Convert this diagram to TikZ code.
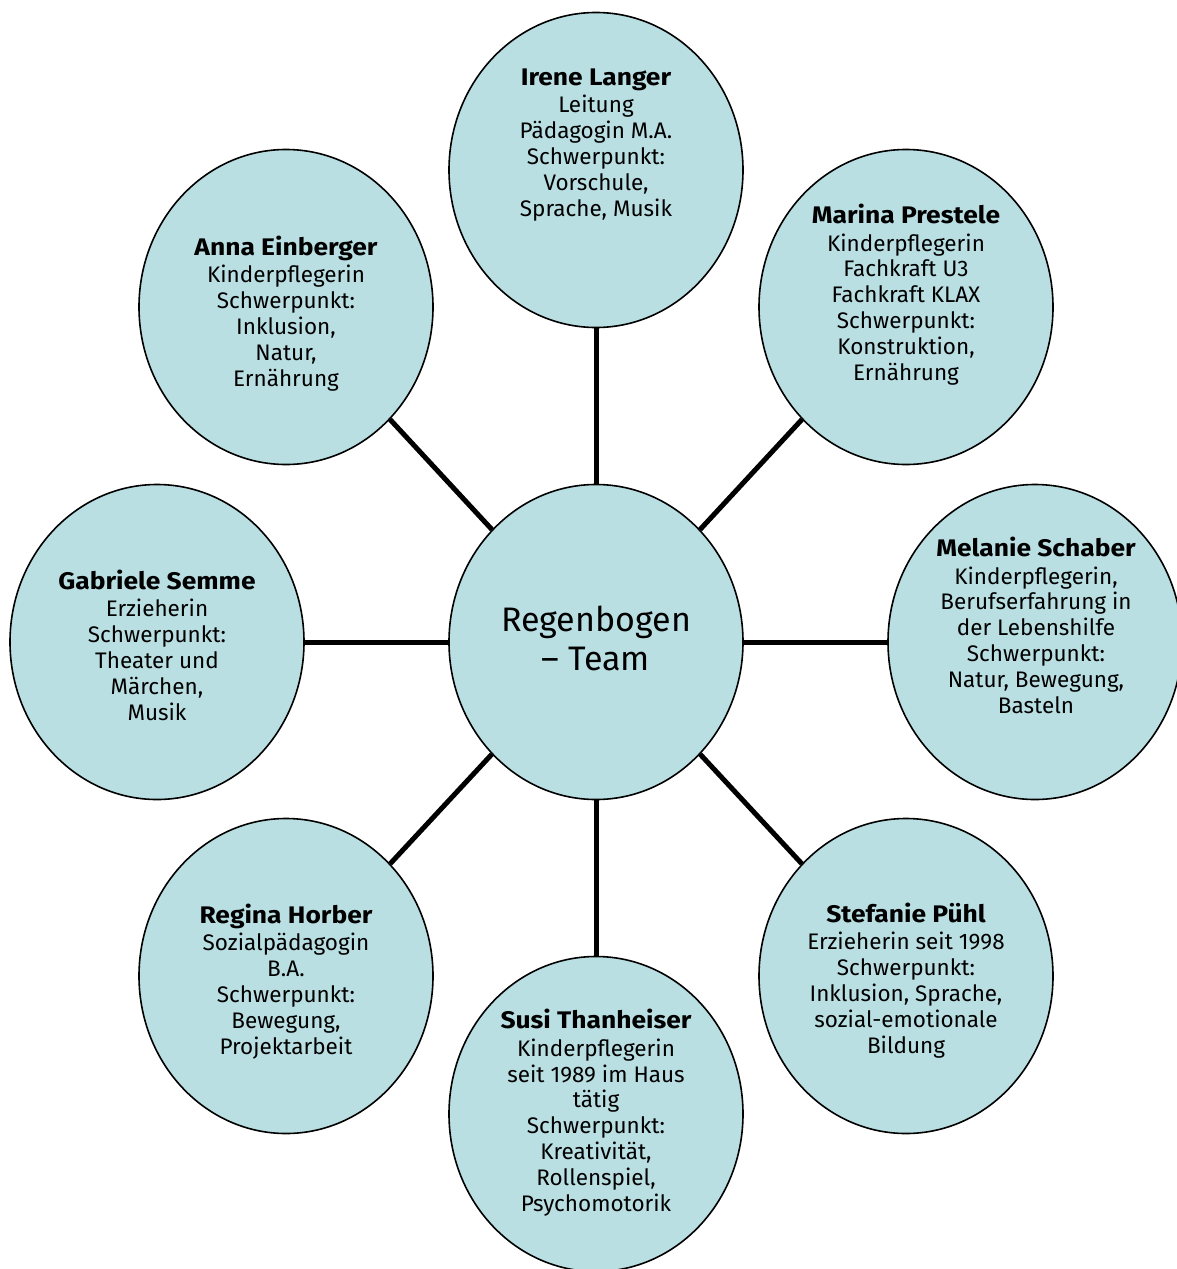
\documentclass[tikz,border=0pt]{standalone}
\usepackage{fontspec}
\setmainfont{Fira Sans}
\newfontfamily\namefont[FakeStretch=1.1]{Fira Sans Bold}
\usetikzlibrary{shapes.geometric}
\definecolor{bubblefill}{RGB}{185,223,227}
\newcommand\nm[1]{{\fontsize{24}{26}\namefont #1}\\[2pt]}
\begin{document}
\begin{tikzpicture}[x=1pt,y=-1pt,
  bubble/.style={ellipse, draw=black, line width=1.6pt, fill=bubblefill,
    minimum width=294pt, minimum height=315pt, inner sep=0pt},
  link/.style={line width=5pt},
  info/.style={anchor=base, align=center, inner sep=0pt,
    font=\fontsize{22.5}{25.8}\selectfont},
]
\useasboundingbox (0,0) rectangle (1176,1269);
\node[bubble] (c) at (596,642) {};
\node[bubble] (irene) at (596,170) {};
\node[bubble] (marina) at (906,307) {};
\node[bubble] (melanie) at (1035,642) {};
\node[bubble] (stefanie) at (906,976) {};
\node[bubble] (susi) at (596,1114) {};
\node[bubble] (regina) at (286,976) {};
\node[bubble] (gabriele) at (157,642) {};
\node[bubble] (anna) at (286,307) {};
\foreach \n in {irene,marina,melanie,stefanie,susi,regina,gabriele,anna}
  \draw[link] (c) -- (\n);

\node[info, font=\fontsize{34}{38.5}\selectfont] (t-c) at (596,670) {Regenbogen\\– Team};
\node[info] (t-irene) at (596,216) {\nm{Irene Langer}Leitung\\Pädagogin M.A.\\Schwerpunkt:\\Vorschule,\\Sprache, Musik};
\node[info] (t-marina) at (906,380) {\nm{Marina Prestele}Kinderpflegerin\\Fachkraft U3\\Fachkraft KLAX\\Schwerpunkt:\\Konstruktion,\\Ernährung};
\node[info] (t-melanie) at (1036,713) {\nm{Melanie Schaber}Kinderpflegerin,\\Berufserfahrung in\\der Lebenshilfe\\Schwerpunkt:\\Natur, Bewegung,\\Basteln};
\node[info] (t-stefanie) at (906,1053) {\nm{Stefanie Pühl}Erzieherin seit 1998\\Schwerpunkt:\\Inklusion, Sprache,\\sozial-emotionale\\Bildung};
\node[info] (t-susi) at (596,1211) {\nm{Susi Thanheiser}Kinderpflegerin\\seit 1989 im Haus\\tätig\\Schwerpunkt:\\Kreativität,\\Rollenspiel,\\Psychomotorik};
\node[info] (t-regina) at (286,1054) {\nm{Regina Horber}Sozialpädagogin\\B.A.\\Schwerpunkt:\\Bewegung,\\Projektarbeit};
\node[info] (t-gabriele) at (157,720) {\nm{Gabriele Semme}Erzieherin\\Schwerpunkt:\\Theater und\\Märchen,\\Musik};
\node[info] (t-anna) at (286,386) {\nm{Anna Einberger}Kinderpflegerin\\Schwerpunkt:\\Inklusion,\\Natur,\\Ernährung};
\end{tikzpicture}
\end{document}
